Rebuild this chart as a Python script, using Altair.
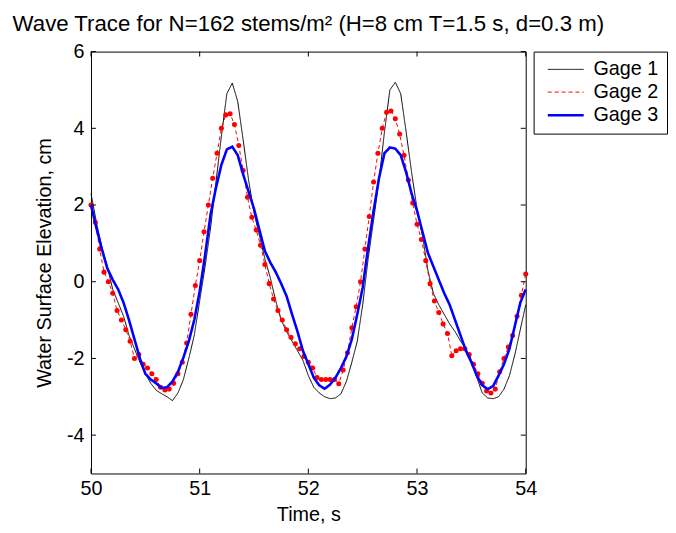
import altair as alt
import pandas as pd

T0 = 50.0
STEP_LINE = 0.05   # sampling of the Gage 1 / Gage 3 traces (s)
STEP_G2 = 0.04     # sampling of the Gage 2 markers (s)

gage1 = [2.3, 1.55, 0.9, 0.4, -0.2, -0.55, -0.9, -1.4, -1.75, -2.1,
         -2.4, -2.65, -2.83, -2.92, -3.0, -3.1, -2.9, -2.55, -2.0, -1.4,
         -0.5, 0.4, 1.4, 2.6, 3.8, 4.9, 5.18, 4.7, 3.7, 2.65,
         1.8, 1.2, 0.6, 0.1, -0.5, -1.0, -1.3, -1.55, -1.8, -2.05,
         -2.45, -2.75, -2.9, -3.0, -3.05, -3.03, -2.92, -2.6, -2.1, -1.55,
         -0.6, 0.6, 1.6, 2.65, 3.9, 5.0, 5.2, 4.9, 3.9, 2.85,
         1.9, 1.2, 0.3, -0.3, -0.6, -0.85, -1.1, -1.3, -1.55, -1.75,
         -2.05, -2.5, -2.9, -3.03, -3.05, -3.0, -2.8, -2.45, -1.9, -1.25,
         -0.6]

gage3 = [2.0, 1.4, 0.85, 0.35, 0.05, -0.2, -0.55, -1.0, -1.5, -2.0,
         -2.4, -2.55, -2.65, -2.77, -2.75, -2.6, -2.35, -1.98, -1.55, -1.0,
         -0.25, 0.7, 1.75, 2.45, 3.05, 3.45, 3.52, 3.3, 2.8, 2.35,
         1.9, 1.35, 0.8, 0.5, 0.25, -0.05, -0.38, -0.85, -1.3, -1.8,
         -2.15, -2.5, -2.7, -2.79, -2.68, -2.5, -2.25, -1.95, -1.5, -0.85,
         -0.15, 0.9, 1.85, 2.7, 3.35, 3.5, 3.47, 3.3, 2.85, 2.3,
         1.85, 1.3, 0.75, 0.4, 0.05, -0.3, -0.6, -1.0, -1.4, -1.8,
         -2.1, -2.45, -2.7, -2.8, -2.72, -2.45, -2.15, -1.75, -1.15, -0.55,
         -0.2]

gage2 = [2.0, 1.55, 0.85, 0.25, 0.0, -0.3, -0.75, -1.0, -1.25, -1.55,
         -2.0, -1.9, -2.15, -2.25, -2.4, -2.55, -2.75, -2.82, -2.8, -2.65,
         -2.4, -2.1, -1.6, -0.85, -0.1, 0.55, 1.3, 2.0, 2.7, 3.35,
         4.0, 4.35, 4.38, 4.1, 3.55, 2.9, 2.2, 1.68, 1.35, 0.95,
         0.45, -0.05, -0.45, -0.75, -1.0, -1.25, -1.45, -1.62, -1.75, -1.95,
         -2.1, -2.25, -2.5, -2.55, -2.55, -2.55, -2.55, -2.66, -2.3, -1.85,
         -1.2, -0.65, 0.0, 0.85, 1.7, 2.6, 3.35, 4.0, 4.42, 4.45,
         4.25, 3.85, 3.3, 2.65, 2.05, 1.5, 1.1, 0.55, -0.05, -0.5,
         -0.8, -1.1, -1.35, -1.93, -1.8, -1.75, -1.75, -1.9, -2.15, -2.4,
         -2.65, -2.85, -2.9, -2.8, -2.35, -2.0, -1.7, -1.4, -0.9, -0.35,
         0.2]

gage_names = ["Gage 1", "Gage 2", "Gage 3"]
gage_colors = ["#000000", "#ff0000", "#0000ff"]
gage_widths = [1, 1, 2.6]
x_ticks = [50, 51, 52, 53, 54]
y_ticks = [-4, -2, 0, 2, 4, 6]

W, H = 440, 427
TICK = 5
FONT = "Liberation Sans"

t_line = [round(T0 + i * STEP_LINE, 2) for i in range(len(gage1))]
t_g2 = [round(T0 + i * STEP_G2, 2) for i in range(len(gage2))]

df1 = pd.DataFrame({"t": t_line, "v": gage1, "gage": gage_names[0]})
df2 = pd.DataFrame({"t": t_g2, "v": gage2, "gage": gage_names[1]})
df3 = pd.DataFrame({"t": t_line, "v": gage3, "gage": gage_names[2]})

xscale = alt.Scale(domain=[50, 54], nice=False, zero=False)
yscale = alt.Scale(domain=[-5, 6], nice=False, zero=False)

leg = alt.Legend(title=None)
color = alt.Color("gage:N", scale=alt.Scale(domain=gage_names, range=gage_colors), legend=leg)
dash = alt.StrokeDash("gage:N", scale=alt.Scale(domain=gage_names, range=[[1, 0], [4, 3], [1, 0]]), legend=leg)
swidth = alt.StrokeWidth("gage:N", scale=alt.Scale(type="ordinal", domain=gage_names, range=gage_widths), legend=leg)

x_enc = alt.X("t:Q", scale=xscale,
              axis=alt.Axis(values=x_ticks, title="Time, s",
                            labelExpr="'' + datum.value",
                            titleY=48, titleBaseline="alphabetic"))
y_enc = alt.Y("v:Q", scale=yscale,
              axis=alt.Axis(values=y_ticks, title="Water Surface Elevation, cm",
                            labelExpr="'' + datum.value"))
x_plain = alt.X("t:Q", scale=xscale)
y_plain = alt.Y("v:Q", scale=yscale)

lines12 = alt.Chart(pd.concat([df1, df2])).mark_line().encode(
    x=x_enc, y=y_enc, color=color, strokeDash=dash, strokeWidth=swidth,
    detail="gage:N")

pts2 = alt.Chart(df2).mark_point(filled=True, size=26, opacity=1).encode(
    x=x_plain, y=y_plain, color=alt.value("#ff0000"))

line3 = alt.Chart(df3).mark_line().encode(
    x=x_plain, y=y_plain, color=color, strokeDash=dash, strokeWidth=swidth)

xt = pd.DataFrame({"t": x_ticks})
yt = pd.DataFrame({"v": y_ticks})
rule = dict(color="black", strokeWidth=1)

xb = alt.Chart(xt).mark_rule(**rule).encode(
    x=x_plain, y=alt.value(H), y2=alt.value(H - TICK))
xtop = alt.Chart(xt).mark_rule(**rule).encode(
    x=x_plain, y=alt.value(0), y2=alt.value(TICK))
yl = alt.Chart(yt).mark_rule(**rule).encode(
    y=y_plain, x=alt.value(0), x2=alt.value(TICK))
yr = alt.Chart(yt).mark_rule(**rule).encode(
    y=y_plain, x=alt.value(W), x2=alt.value(W - TICK))

chart = alt.layer(lines12, pts2, line3, xb, xtop, yl, yr).properties(
    width=W, height=H,
    autosize="none",
    padding={"left": 84, "top": 41, "right": 144, "bottom": 49},
    title=alt.TitleParams(
        "Wave Trace for N=162 stems/m\u00b2 (H=8 cm T=1.5 s, d=0.3 m)",
        font=FONT, fontSize=22.5, fontWeight="normal", color="black",
        anchor="middle", offset=6),
).configure_view(
    stroke="black", strokeWidth=1
).configure_axis(
    domain=False, ticks=False, grid=False, labelFlush=False,
    labelFont=FONT, labelFontSize=20, labelColor="black", labelPadding=5,
    titleFont=FONT, titleFontSize=20, titleColor="black", titleFontWeight="normal",
    titlePadding=4,
).configure_axisY(labelPadding=7, titlePadding=12).configure_legend(
    orient="none", legendX=448, legendY=0,
    strokeColor="black", fillColor="white", padding=8,
    symbolType="M-2,0H2", symbolSize=330, symbolOffset=14,
    labelFont=FONT, labelFontSize=20, labelColor="black", labelOffset=17.5,
    rowPadding=3, labelLimit=200,
)

chart.save("out.html", embed_options={"renderer": "svg", "actions": False})
